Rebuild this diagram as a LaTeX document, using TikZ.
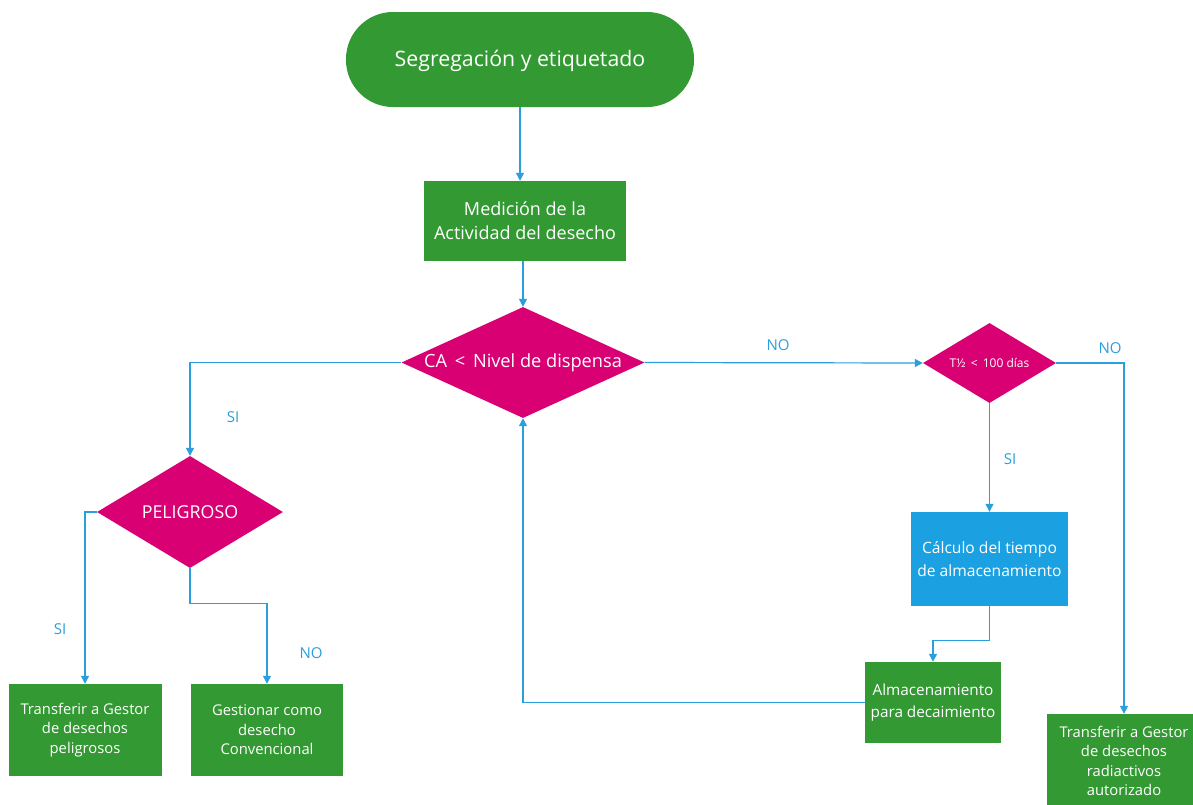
\documentclass[tikz,border=0pt]{standalone}
\usepackage{fontspec}
\setmainfont{Open Sans}
\usetikzlibrary{shapes.geometric,arrows.meta}
\definecolor{fgreen}{HTML}{339933}
\definecolor{fmag}{HTML}{D80073}
\definecolor{fblue}{HTML}{1BA1E2}
\definecolor{lblue}{HTML}{2A9FDD}
\tikzset{
  gbox/.style={rectangle, fill=fgreen, text=white, align=center, inner sep=0pt, font=\fontsize{14.8}{19.5}\selectfont},
  bbox/.style={gbox, fill=fblue},
  dec/.style={diamond, fill=fmag, text=white, align=center, inner sep=0pt},
  conn/.style={draw=lblue, line width=1.2pt, -{Triangle[length=8pt,width=8pt]}},
  lab/.style={text=lblue, font=\fontsize{15}{17}\selectfont, inner sep=0pt}
}
\begin{document}
\begin{tikzpicture}[x=1pt,y=-1pt]
\useasboundingbox (0,0) rectangle (1193,804);
\node[gbox, rounded corners=47pt, minimum width=348pt, minimum height=95pt, font=\fontsize{21.3}{25}\selectfont, text depth=2pt] (term) at (520,59.5) {Segregación y etiquetado};
\node[gbox, minimum width=202pt, minimum height=80pt, font=\fontsize{18}{24}\selectfont] (med) at (525,221) {Medición de la\\Actividad del desecho};
\node[dec, minimum width=243pt, minimum height=111pt, aspect=2.19, font=\fontsize{18.2}{20}\selectfont] (ca) at (523,362.5) {CA \,<\, Nivel de dispensa};
\node[dec, minimum width=133pt, minimum height=80pt, aspect=1.66, font=\fontsize{12}{14}\selectfont] (t) at (989.5,363) {T½ \,<\, 100 días};
\node[dec, minimum width=186pt, minimum height=112pt, aspect=1.66, font=\fontsize{17.8}{20}\selectfont] (pel) at (190,512) {PELIGROSO};
\node[gbox, minimum width=153pt, minimum height=92pt] (tp) at (85,730) {Transferir a Gestor\\de desechos\\peligrosos};
\node[gbox, minimum width=152pt, minimum height=92pt] (gc) at (267,730) {Gestionar como\\desecho\\Convencional};
\node[bbox, minimum width=157pt, minimum height=94pt, font=\fontsize{15.6}{23}\selectfont] (calc) at (989.5,559) {Cálculo del tiempo\\de almacenamiento};
\node[gbox, minimum width=136pt, minimum height=81pt, font=\fontsize{15.3}{22}\selectfont] (alm) at (933,702.5) {Almacenamiento\\para decaimiento};
\node[gbox, minimum width=154pt, minimum height=94pt] (rad) at (1124,761) {Transferir a Gestor\\de desechos\\radiactivos\\autorizado};
\draw[conn] (term.south) -- (term.south |- med.north);
\draw[conn] (ca.north |- med.south) -- (ca.north);
\draw[conn] (ca.west) -| (pel.north);
\draw[conn] (ca.east) -- (t.west);
\draw[conn] (t.east) -| (rad.north);
\draw[conn] (t.south) -- (calc.north);
\draw[conn] (calc.south) -- ++(0,34) -| (alm.north);
\draw[conn] (alm.west) -| (ca.south);
\draw[conn] (pel.west) -| (tp.north);
\draw[conn] (pel.south) -- ++(0,35) -| (gc.north);
\node[lab] (l1) at (233,417) {SI};
\node[lab] (l2) at (778,345) {NO};
\node[lab] (l3) at (1110,348) {NO};
\node[lab] (l4) at (1010,459) {SI};
\node[lab] (l5) at (60,629) {SI};
\node[lab] (l6) at (311,653) {NO};
\end{tikzpicture}
\end{document}
